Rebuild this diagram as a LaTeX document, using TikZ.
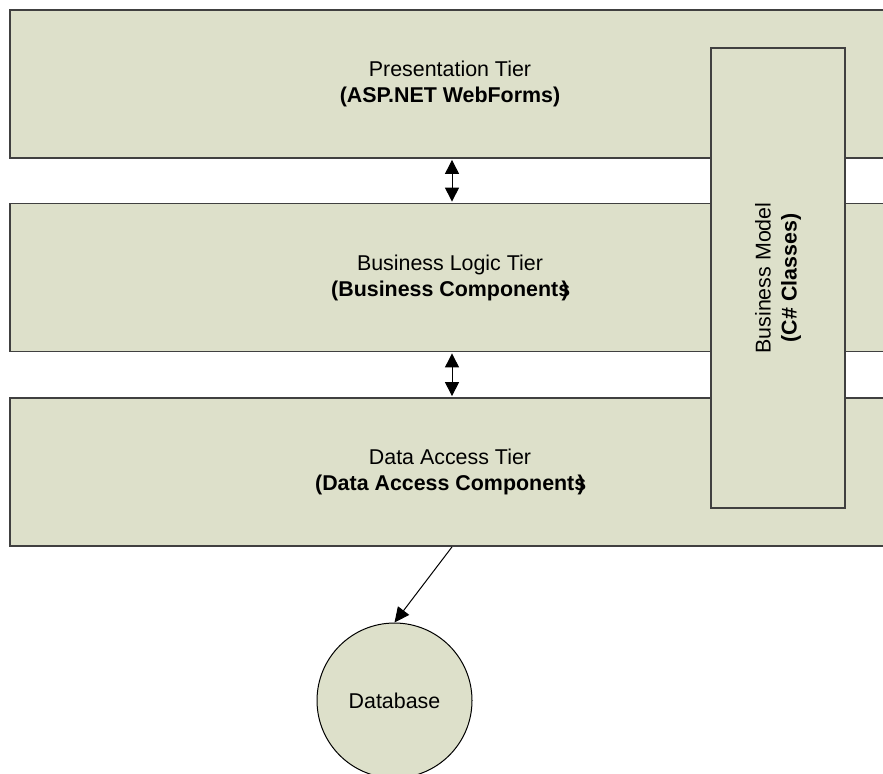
\documentclass[tikz,border=0pt]{standalone}
\usepackage{fontspec}
\setmainfont{Liberation Sans}
\usetikzlibrary{arrows.meta}
\definecolor{boxfill}{RGB}{221,224,202}
\definecolor{boxline}{RGB}{64,64,64}
\tikzset{
  tier/.style={draw=boxline, line width=0.9pt, fill=boxfill, minimum width=440pt, minimum height=74pt, align=center, font=\fontsize{10.7}{13}\selectfont, inner sep=0pt},
  bmodel/.style={draw=boxline, line width=0.8pt, fill=boxfill, minimum width=230pt, minimum height=67pt, align=center, rotate=90, font=\fontsize{10.7}{13}\selectfont, inner sep=0pt},
  dbnode/.style={circle, draw=black, line width=0.5pt, fill=boxfill, minimum size=77.5pt, inner sep=0pt, font=\fontsize{10.7}{13}\selectfont},
  darr/.style={draw=black, line width=0.5pt, {Triangle[length=7pt,width=7pt]}-{Triangle[length=7pt,width=7pt]}, shorten <=0.5pt, shorten >=0.5pt},
  sarr/.style={draw=black, line width=0.5pt, -{Triangle[length=7.5pt,width=7pt]}}
}
\begin{document}
\begin{tikzpicture}[x=0.5pt, y=-0.5pt]
\useasboundingbox (0,0) rectangle (883,773);
\begin{scope}
\clip (0,0) rectangle (883,773);
\node[tier] (pres) at (450,84) {Presentation Tier\\\textbf{(ASP.NET WebForms)}};
\node[tier] (logic) at (450,277.5) {Business Logic Tier\\\textbf{(Business Components\kern-0.4em)}};
\node[tier] (data) at (450,472) {Data Access Tier\\\textbf{(Data Access Components\kern-0.4em)}};
\node[bmodel] (bm) at (778,278) {Business Model\\\textbf{(C\# Classes)}};
\node[dbnode] (db) at (394.5,700.5) {Database};
\draw[darr] ([xshift=1pt]pres.south) -- ([xshift=1pt]logic.north);
\draw[darr] ([xshift=1pt]logic.south) -- ([xshift=1pt]data.north);
\draw[sarr] ([xshift=1pt]data.south) -- (db.north);
\end{scope}
\end{tikzpicture}
\end{document}
